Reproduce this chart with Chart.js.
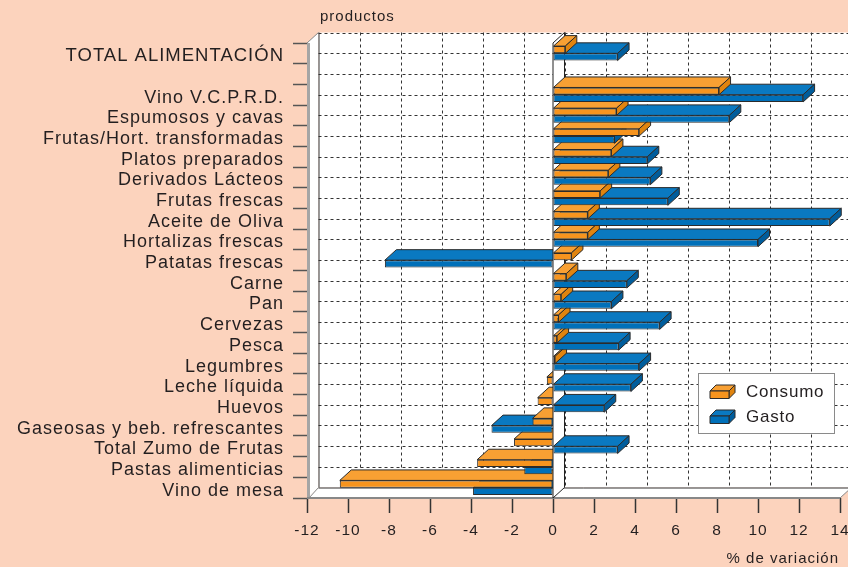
<!DOCTYPE html>
<html lang="es">
<head>
<meta charset="utf-8">
<title>Consumo y gasto: % de variación por productos</title>
<script src="https://cdn.jsdelivr.net/npm/chart.js@4.4.1/dist/chart.umd.min.js"></script>
<style>
  html, body { margin: 0; padding: 0; background: #fcd3bd; }
  #wrap { width: 848px; height: 567px; }
</style>
</head>
<body>
<div id="wrap"><canvas id="chart" width="848" height="567"></canvas></div>
<script>
// categories top to bottom, '' is the empty slot under the total
const categories = [
  'TOTAL ALIMENTACIÓN', '',
  'Vino V.C.P.R.D.', 'Espumosos y cavas', 'Frutas/Hort. transformadas',
  'Platos preparados', 'Derivados Lácteos', 'Frutas frescas',
  'Aceite de Oliva', 'Hortalizas frescas', 'Patatas frescas', 'Carne',
  'Pan', 'Cervezas', 'Pesca', 'Legumbres', 'Leche líquida', 'Huevos',
  'Gaseosas y beb. refrescantes', 'Total Zumo de Frutas',
  'Pastas alimenticias', 'Vino de mesa'
];
const consumo = [0.6, null, 8.1, 3.1, 4.2, 2.85, 2.7, 2.3, 1.7, 1.7, 0.9, 0.65,
  0.4, 0.27, 0.2, 0.1, -0.3, -0.75, -1.0, -1.9, -3.7, -10.4];
const gasto = [3.15, null, 12.2, 8.6, 3.0, 4.6, 4.75, 5.6, 13.5, 10.0, -8.2, 3.6,
  2.85, 5.2, 3.2, 4.2, 3.8, 2.5, -3.0, 3.15, -1.4, -3.9];
const xMin = -12, xMax = 14, xStep = 2;

const DX = 11.5, DY = 10.5;          // depth of the 3d box
const FONT = '"Liberation Sans", Arial, sans-serif';
const INK = '#231f20';
const EDGE = '#2b2b2b';
const ORANGE = { front: '#f7941e', top: '#f8a033', side: '#e0840f' };
const BLUE = { front: '#0070b9', top: '#0a79c1', side: '#005d9c' };

function poly(ctx, pts, fill, stroke) {
  ctx.beginPath();
  ctx.moveTo(pts[0][0], pts[0][1]);
  for (let i = 1; i < pts.length; i++) ctx.lineTo(pts[i][0], pts[i][1]);
  ctx.closePath();
  if (fill) { ctx.fillStyle = fill; ctx.fill(); }
  if (stroke) { ctx.strokeStyle = stroke; ctx.lineWidth = 1; ctx.stroke(); }
}

function line(ctx, x1, y1, x2, y2) {
  ctx.beginPath();
  ctx.moveTo(x1, y1);
  ctx.lineTo(x2, y2);
  ctx.stroke();
}

function box(bar) {
  const p = bar.getProps(['x', 'y', 'base', 'height'], true);
  return {
    left: Math.min(p.x, p.base), right: Math.max(p.x, p.base),
    top: p.y - p.height / 2, bottom: p.y + p.height / 2
  };
}

function topFace(ctx, b, col) {
  poly(ctx, [[b.left, b.top], [b.right, b.top], [b.right + DX, b.top - DY],
    [b.left + DX, b.top - DY]], col.top, EDGE);
}

function sideFace(ctx, b, col) {
  poly(ctx, [[b.right, b.top], [b.right + DX, b.top - DY],
    [b.right + DX, b.bottom - DY], [b.right, b.bottom]], col.side, EDGE);
}

// walls, floor, grid and the hidden faces of the bars
const scene3d = {
  id: 'scene3d',
  beforeDraw(chart) {
    const { ctx, width, height } = chart;
    ctx.save();
    ctx.fillStyle = '#fcd3bd';
    ctx.fillRect(0, 0, width, height);
    ctx.restore();
    ctx.letterSpacing = '1px';
  },
  beforeDatasetsDraw(chart) {
    const { ctx, chartArea: a, scales: { x, y } } = chart;
    ctx.save();
    ctx.letterSpacing = '0px';

    ctx.fillStyle = '#fff';
    ctx.fillRect(a.left + DX, a.top - DY, a.right - a.left + DX, a.bottom - a.top);
    poly(ctx, [[a.left, a.bottom], [a.left + DX, a.bottom - DY],
      [a.right + DX, a.bottom - DY], [a.right, a.bottom]], '#fff');
    poly(ctx, [[a.left, a.top], [a.left + DX, a.top - DY],
      [a.left + DX, a.bottom - DY], [a.left, a.bottom]], '#fff');
    ctx.fillStyle = '#a5a5a5';
    ctx.fillRect(a.left, a.top, 3, a.bottom - a.top);

    // dashed grid on the back wall
    ctx.strokeStyle = '#333';
    ctx.lineWidth = 1;
    ctx.setLineDash([3, 3]);
    x.ticks.forEach(t => {
      if (t.value === xMin) return;
      const px = Math.round(x.getPixelForValue(t.value) + DX) + 0.5;
      line(ctx, px, a.top - DY, px, a.bottom - DY);
    });
    for (let j = 0; j < categories.length; j++) {
      const py = Math.round(y.getPixelForValue(j - 0.5) - DY) + 0.5;
      line(ctx, a.left + DX, py, a.right + DX, py);
    }
    ctx.setLineDash([]);

    // box edges
    ctx.strokeStyle = '#333';
    line(ctx, a.left + DX + 0.5, a.top - DY, a.left + DX + 0.5, a.bottom - DY);
    line(ctx, a.left + DX, a.bottom - DY + 0.5, a.right + DX, a.bottom - DY + 0.5);
    ctx.strokeStyle = '#888';
    line(ctx, a.left, a.top, a.left + DX, a.top - DY);
    line(ctx, a.left + 2, a.bottom, a.left + DX, a.bottom - DY);
    line(ctx, a.right, a.bottom, a.right + DX, a.bottom - DY);
    ctx.lineWidth = 2;
    line(ctx, a.left, a.bottom, a.right, a.bottom);

    const metaC = chart.getDatasetMeta(0);
    const metaG = chart.getDatasetMeta(1);
    const series = [[metaG, gasto, BLUE], [metaC, consumo, ORANGE]];

    // negative bars sit behind the zero wall
    for (let i = categories.length - 1; i >= 0; i--) {
      series.forEach(([meta, vals, col]) => {
        if (vals[i] === null || vals[i] >= 0) return;
        topFace(ctx, box(meta.data[i]), col);
      });
    }

    const x0 = x.getPixelForValue(0);
    poly(ctx, [[x0, a.top], [x0 + DX, a.top - DY], [x0 + DX, a.bottom - DY],
      [x0, a.bottom]], '#fff', '#222');

    for (let i = categories.length - 1; i >= 0; i--) {
      series.forEach(([meta, vals, col]) => {
        if (vals[i] === null || vals[i] < 0) return;
        const b = box(meta.data[i]);
        topFace(ctx, b, col);
        sideFace(ctx, b, col);
      });
    }
    ctx.restore();
  },
  afterDraw(chart) {
    const { ctx } = chart;
    ctx.save();
    ctx.fillStyle = INK;
    ctx.textBaseline = 'middle';

    ctx.letterSpacing = '1px';
    ctx.font = '15px ' + FONT;
    ctx.textAlign = 'left';
    ctx.fillText('productos', 320, 17);
    ctx.textAlign = 'right';
    ctx.fillText('% de variación', 839, 559);

    // legend
    ctx.fillStyle = '#fff';
    ctx.fillRect(698.5, 373.5, 136, 60);
    ctx.strokeStyle = '#8a8a8a';
    ctx.lineWidth = 1;
    ctx.strokeRect(698.5, 373.5, 136, 60);
    const items = [['Consumo', ORANGE, 391], ['Gasto', BLUE, 416]];
    items.forEach(([label, col, yy]) => {
      const l = 710, r = 729, t = yy, btm = yy + 7.5, d = 6;
      poly(ctx, [[l, t], [r, t], [r + d, t - d], [l + d, t - d]], col.top, EDGE);
      poly(ctx, [[r, t], [r + d, t - d], [r + d, btm - d], [r, btm]], col.side, EDGE);
      poly(ctx, [[l, t], [r, t], [r, btm], [l, btm]], col.front, EDGE);
      ctx.fillStyle = INK;
      ctx.textAlign = 'left';
      ctx.letterSpacing = '0.8px';
      ctx.font = '17px ' + FONT;
      ctx.fillText(label, 746, yy + 1.5);
    });
    ctx.restore();
  }
};

new Chart(document.getElementById('chart'), {
  type: 'bar',
  data: {
    labels: categories,
    datasets: [
      {
        label: 'Consumo', data: consumo,
        backgroundColor: ORANGE.front, borderColor: EDGE,
        borderWidth: 1, borderSkipped: false
      },
      {
        label: 'Gasto', data: gasto,
        backgroundColor: BLUE.front, borderColor: EDGE,
        borderWidth: 1, borderSkipped: false
      }
    ]
  },
  options: {
    indexAxis: 'y',
    responsive: false,
    animation: false,
    events: [],
    categoryPercentage: 0.7,
    barPercentage: 1,
    layout: { padding: { top: 43, right: 8, left: 0, bottom: 0 } },
    plugins: {
      legend: { display: false },
      tooltip: { enabled: false }
    },
    scales: {
      x: {
        type: 'linear',
        min: xMin, max: xMax,
        ticks: {
          stepSize: xStep,
          color: INK,
          padding: 8,
          font: { family: FONT, size: 15.5 }
        },
        grid: {
          drawOnChartArea: false, drawTicks: true,
          tickLength: 15, tickColor: '#333', tickWidth: 1.5
        },
        border: { display: false },
        afterFit(scale) {
          scale.height = 69;
          scale.paddingLeft = 0;
          scale.paddingRight = 0;
        }
      },
      y: {
        ticks: {
          color: INK,
          padding: 9,
          labelOffset: 3,
          autoSkip: false,
          font: ctx => ({ family: FONT, size: ctx.index === 0 ? 18.5 : 18 })
        },
        grid: {
          offset: true, drawOnChartArea: false, drawTicks: true,
          tickLength: 14, tickColor: '#555', tickWidth: 1.5
        },
        border: { display: false },
        afterFit(scale) {
          scale.width = 307;
          scale.paddingTop = 0;
          scale.paddingBottom = 0;
        }
      }
    }
  },
  plugins: [scene3d]
});
</script>
</body>
</html>
